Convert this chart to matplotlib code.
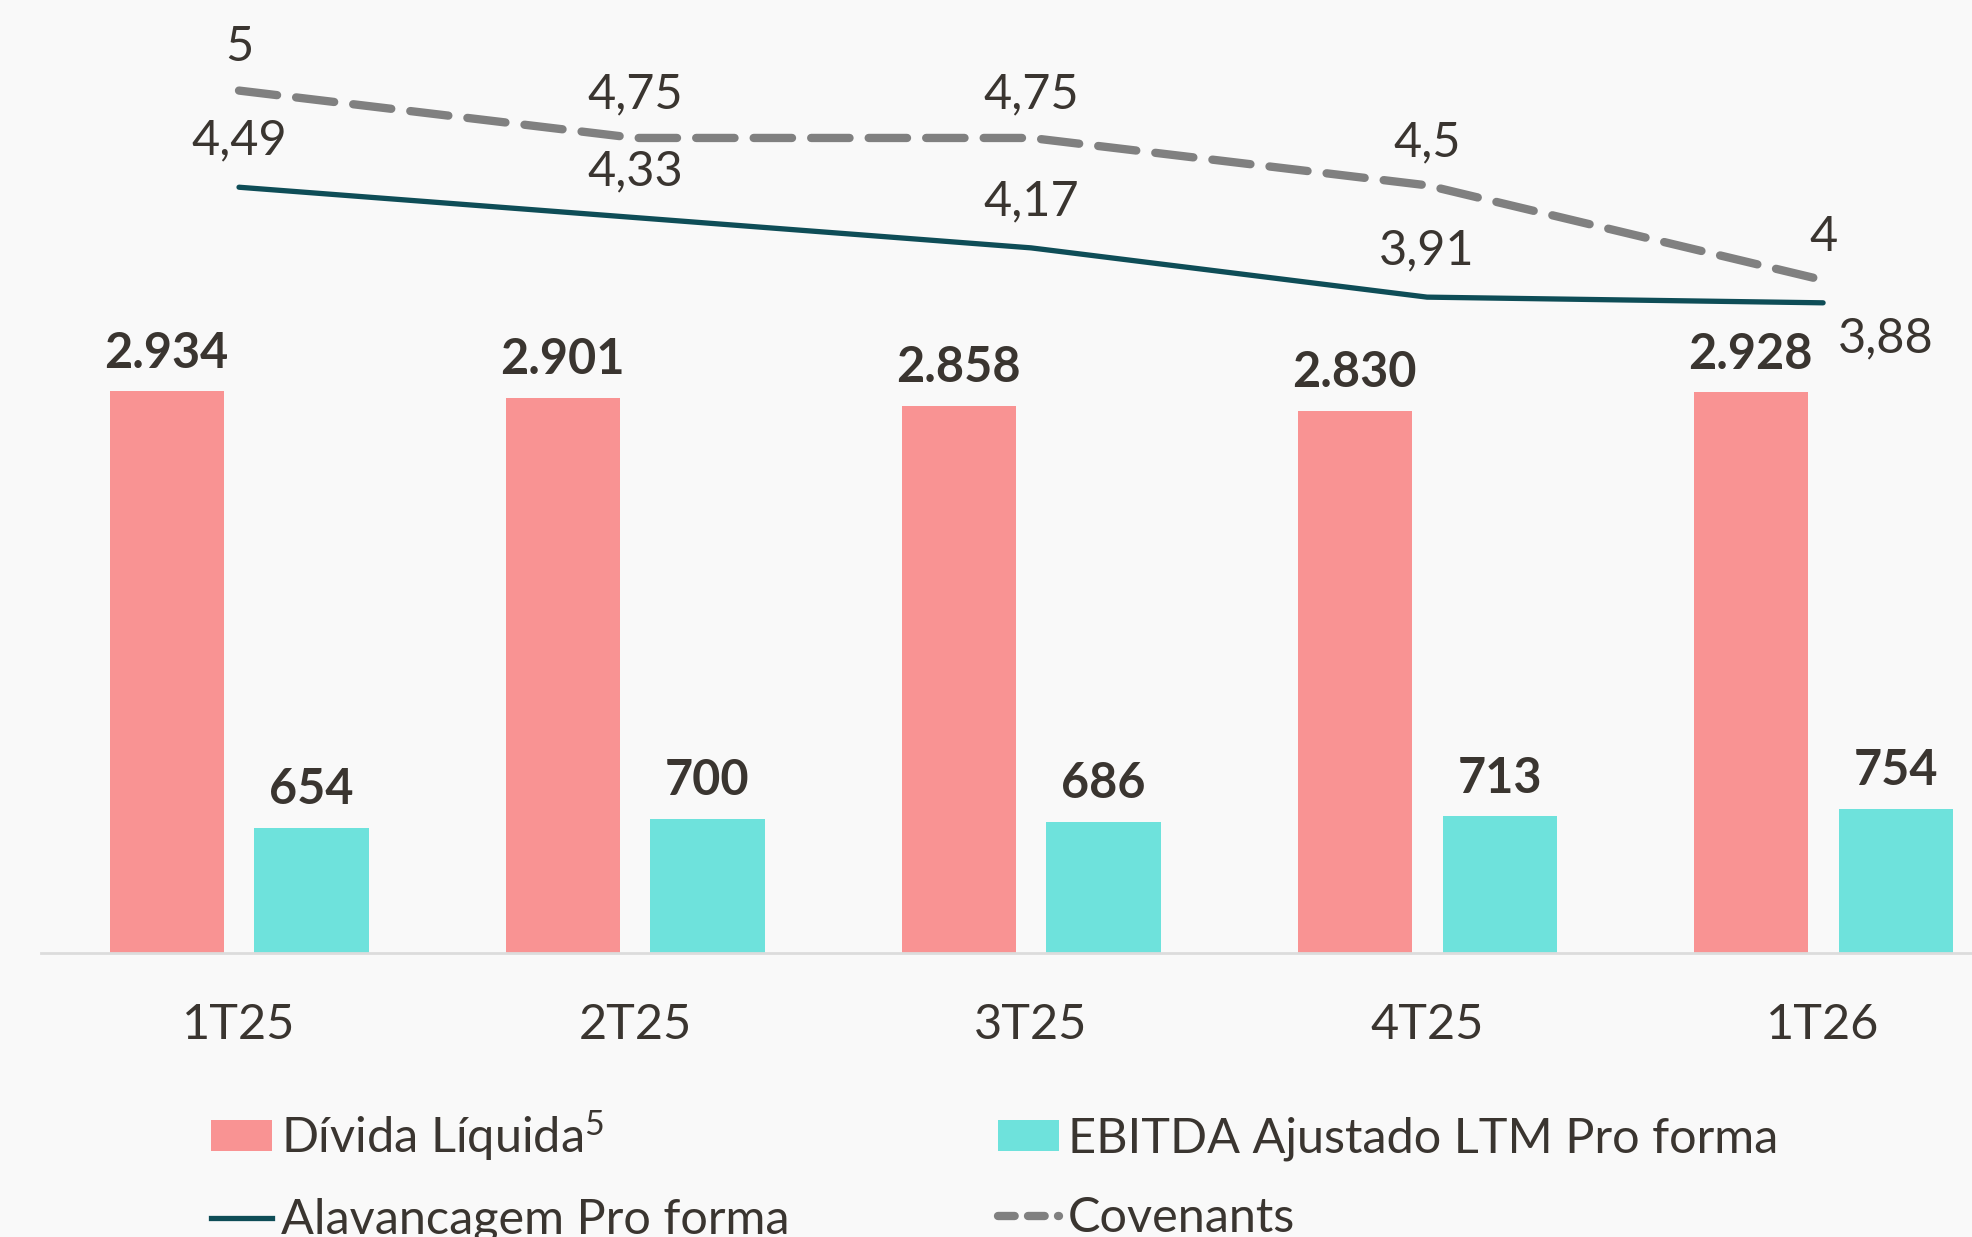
import matplotlib
matplotlib.use('Agg')
import matplotlib.pyplot as plt
from matplotlib.lines import Line2D
from matplotlib.patches import Patch
import numpy as np

# ---- data ----
categories = ['1T25', '2T25', '3T25', '4T25', '1T26']
divida_liquida = [2934, 2901, 2858, 2830, 2928]
ebitda_ajustado = [654, 700, 686, 713, 754]
alavancagem = [4.49, 4.33, 4.17, 3.91, 3.88]
covenants = [5, 4.75, 4.75, 4.5, 4]
legend_labels = ['Dívida Líquida$^{5}$', 'Alavancagem Pro forma',
                 'EBITDA Ajustado LTM Pro forma', 'Covenants']

# ---- style ----
plt.rcParams['font.family'] = ['Lato', 'DejaVu Sans']
plt.rcParams['mathtext.default'] = 'regular'
FS = 35
TXT = '#3a3530'
RED = '#F99393'
TEAL = '#6EE2DC'
DARK = '#0E4D57'
GRAY = '#808080'
BG = '#f9f9f9'


def fmt_int(v):
    return f"{v:,}".replace(',', '.')


def fmt_dec(v):
    return f"{v:g}".replace('.', ',')


W, H = 1972, 1237
fig = plt.figure(figsize=(W / 100, H / 100), dpi=100, facecolor=BG)
left_px, base_px = 41, 953
ax = fig.add_axes([left_px / W, (H - base_px) / H, (W - left_px) / W, base_px / H])
ax.set_facecolor('none')

x = np.arange(len(categories))
bw = 0.288
off = 0.183
ax.bar(x - off, divida_liquida, bw, color=RED, zorder=2)
ax.bar(x + off, ebitda_ajustado, bw, color=TEAL, zorder=2)

ax.set_xlim(-0.5, 4.376)
ax.set_ylim(0, 4977)
for s in ['top', 'left', 'right']:
    ax.spines[s].set_visible(False)
ax.spines['bottom'].set_color('#dcdcdc')
ax.spines['bottom'].set_linewidth(2)
ax.set_yticks([])
ax.set_xticks(x)
ax.set_xticklabels(categories, fontsize=FS, color=TXT)
ax.tick_params(axis='x', length=0, pad=36)

for xi, v in zip(x - off, divida_liquida):
    ax.annotate(fmt_int(v), (xi, v), xytext=(0, 17), textcoords='offset points',
                ha='center', va='baseline', fontsize=FS, fontweight='bold', color=TXT)
for xi, v in zip(x + off, ebitda_ajustado):
    ax.annotate(fmt_int(v), (xi, v), xytext=(0, 17), textcoords='offset points',
                ha='center', va='baseline', fontsize=FS, fontweight='bold', color=TXT)

ax2 = ax.twinx()
ax2.set_ylim(0.449, 5.478)
ax2.set_yticks([])
for s in ax2.spines.values():
    s.set_visible(False)
ax2.set_facecolor('none')

ax2.plot(x, alavancagem, color=DARK, lw=3.8, solid_capstyle='round', zorder=3)
ax2.plot(x, covenants, color=GRAY, lw=6, dashes=(4.6, 2.3),
         dash_capstyle='round', zorder=3)

for i, (xi, v) in enumerate(zip(x, covenants)):
    ax2.annotate(fmt_dec(v), (xi, v), xytext=(0, 21), textcoords='offset points',
                 ha='center', va='baseline', fontsize=FS, color=TXT)
for i, (xi, v) in enumerate(zip(x, alavancagem)):
    if i == len(x) - 1:
        xy = (45, -36)
    else:
        xy = (0, 23.5)
    ax2.annotate(fmt_dec(v), (xi, v), xytext=xy, textcoords='offset points',
                 ha='center', va='baseline', fontsize=FS, color=TXT)

handles = [Patch(facecolor=RED, edgecolor='none'),
           Line2D([0], [0], color=DARK, lw=3.8),
           Patch(facecolor=TEAL, edgecolor='none'),
           Line2D([0], [0], color=GRAY, lw=6, dashes=(2.0, 1.6), dash_capstyle='round')]
leg = fig.legend(handles, legend_labels, loc='upper left',
                 bbox_to_anchor=(211 / W, 1 - 1108 / H), ncol=2, frameon=False,
                 fontsize=FS, handlelength=1.26, handleheight=0.6,
                 handletextpad=0.17, columnspacing=4.3, labelspacing=0.72,
                 borderpad=0, borderaxespad=0)
for t in leg.get_texts():
    t.set_color(TXT)

fig.savefig('out.png', dpi=100, facecolor=BG)
